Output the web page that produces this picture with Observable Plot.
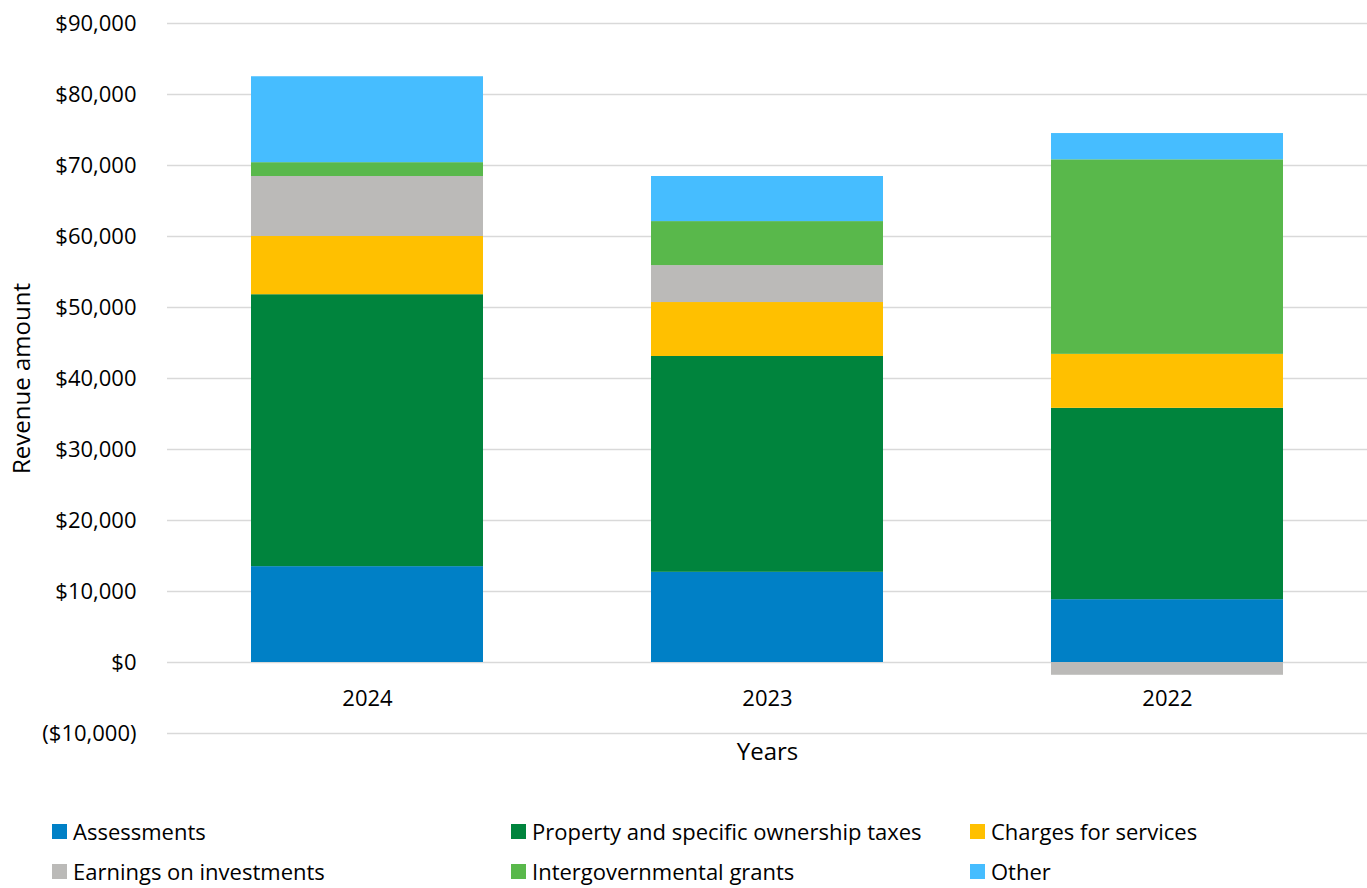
<!DOCTYPE html>
<html>
<head>
<meta charset="utf-8">
<script src="https://cdn.jsdelivr.net/npm/d3@7"></script>
<script src="https://cdn.jsdelivr.net/npm/@observablehq/plot@0.6"></script>
<style>
  body { margin: 0; background: #fff; font-family: "Open Sans", sans-serif; overflow: hidden; }
  #chart svg { display: block; }
  #legend { display: grid; grid-template-columns: 459px 459px 449px; padding-left: 52px; padding-top: 31px; width: 1315px; }
  .item { display: flex; align-items: center; height: 40px; font-size: 22px; line-height: 28px; color: #000; white-space: nowrap; }
  .sw { width: 15px; height: 15px; margin-right: 6px; flex: none; }
</style>
</head>
<body>
<div id="chart"></div>
<div id="legend"></div>
<script>
const years = ["2024", "2023", "2022"];
const series = ["Assessments", "Property and specific ownership taxes", "Charges for services", "Earnings on investments", "Intergovernmental grants", "Other"];
const colors = ["#0080C6", "#00843D", "#FFC000", "#BBBAB8", "#59B84B", "#46BDFF"];
const assessments = [13500, 12700, 8850];
const propertyTaxes = [38300, 30400, 26950];
const charges = [8200, 7600, 7600];
const earnings = [8450, 5200, -1800];
const grants = [1950, 6200, 27400];
const other = [12100, 6350, 3700];
const yTicks = [-10000, 0, 10000, 20000, 30000, 40000, 50000, 60000, 70000, 80000, 90000];

const valuesBySeries = [assessments, propertyTaxes, charges, earnings, grants, other];
const data = [];
series.forEach((s, i) => years.forEach((y, j) => data.push({year: y, series: s, value: valuesBySeries[i][j]})));

const fmt = v => {
  const s = "$" + d3.format(",")(Math.abs(v));
  return v < 0 ? "(" + s + ")" : s;
};

const chart = Plot.plot({
  width: 1367,
  height: 780,
  marginTop: 23,
  marginBottom: 47,
  marginLeft: 167,
  marginRight: 0,
  style: {fontFamily: "'Open Sans', sans-serif", fontSize: "22px", color: "#000", background: "#fff"},
  x: {domain: years, paddingInner: 0.42, paddingOuter: 0.21, axis: null},
  y: {domain: [-10000, 90000], ticks: yTicks},
  color: {domain: series, range: colors},
  marks: [
    Plot.gridY(yTicks, {stroke: "#d9d9d9", strokeOpacity: 1, strokeWidth: 1.5}),
    Plot.barY(data, {x: "year", y: "value", fill: "series", order: series}),
    Plot.axisY(yTicks, {tickSize: 0, tickPadding: 31, tickFormat: fmt, fontSize: 22, label: null}),
    Plot.text(["Revenue amount"], {frameAnchor: "left", textAnchor: "middle", rotate: -90, dx: -145, fontSize: 24, fill: "#000"}),
    Plot.text(years, {x: d => d, y: () => 0, dy: 36, fontSize: 22, fill: "#000"}),
    Plot.text(["Years"], {frameAnchor: "bottom", dy: 26, fontSize: 24, fill: "#000"})
  ]
});
document.getElementById("chart").appendChild(chart);

const legend = document.getElementById("legend");
series.forEach((s, i) => {
  const item = document.createElement("div");
  item.className = "item";
  item.innerHTML = `<span class="sw" style="background:${colors[i]}"></span><span>${s}</span>`;
  legend.appendChild(item);
});
</script>
</body>
</html>
